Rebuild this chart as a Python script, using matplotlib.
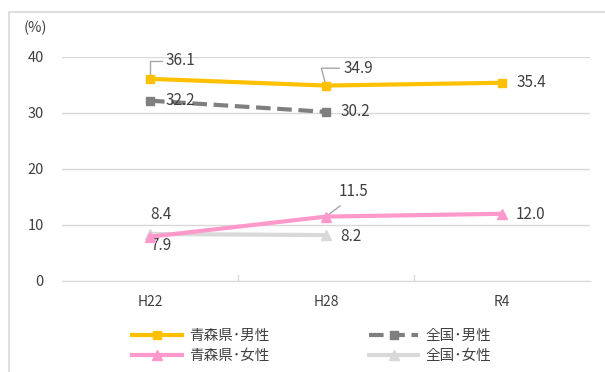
import matplotlib
matplotlib.use("Agg")
import matplotlib.pyplot as plt
from matplotlib.patches import Rectangle

plt.rcParams['font.family'] = ['Noto Sans CJK JP', 'DejaVu Sans']

categories = ["H22", "H28", "R4"]
aomori_male = [36.1, 34.9, 35.4]
national_male = [32.2, 30.2]
aomori_female = [7.9, 11.5, 12.0]
national_female = [8.4, 8.2]
yticks = [0, 10, 20, 30, 40]

fig = plt.figure(figsize=(6.05, 3.72), dpi=100)
fig.patches.append(Rectangle((9/605, -10/372), 610/605, 370/372, transform=fig.transFigure,
                             fill=False, edgecolor='#D9D9D9', linewidth=1.2))
ax = fig.add_axes([62/605, 1-281/372, 528/605, 224/372])

x = list(range(len(categories)))
lw = 3
ax.plot(x[:len(aomori_male)], aomori_male, color='#FFC000', lw=lw, marker='s', ms=6, label='青森県･男性', zorder=4)
ax.plot(x[:len(national_male)], national_male, color='#7F7F7F', lw=lw, ls=(0, (3.5, 1.6)), marker='s', ms=6, label='全国･男性', zorder=3)
ax.plot(x[:len(aomori_female)], aomori_female, color='#FF99CC', lw=lw, marker='^', ms=7, label='青森県･女性', zorder=4)
ax.plot(x[:len(national_female)], national_female, color='#D9D9D9', lw=lw, marker='^', ms=7, label='全国･女性', zorder=3)

ax.set_xlim(-0.5, 2.5)
ax.set_ylim(0, 40)
ax.set_yticks(yticks)
ax.set_xticks(x)
ax.set_xticklabels(categories)
ax.grid(axis='y', color='#D9D9D9', lw=1)
ax.set_axisbelow(True)
for s in ['top', 'right', 'left']:
    ax.spines[s].set_visible(False)
ax.spines['bottom'].set_color('#D9D9D9')
ax.tick_params(axis='y', length=0, labelsize=10.5, colors='#404040', pad=13)
ax.tick_params(axis='x', length=0, labelsize=10, colors='#404040', pad=10)
for xm in [0.5, 1.5]:
    ax.plot([xm, xm], [0, 1], color='#D9D9D9', lw=1, clip_on=False)

fig.text(24/605, 1-28/372, '(%)', fontsize=10.5, color='#404040', va='center')

tc = '#404040'
fs = 11
lc = '#A6A6A6'
ax.annotate(f'{aomori_male[0]:.1f}', xy=(x[0], aomori_male[0]), xytext=(x[0]+0.09, 39.3),
            fontsize=fs, color=tc, va='center', ha='left',
            arrowprops=dict(arrowstyle='-', color=lc, lw=1, connectionstyle='angle,angleA=0,angleB=90,rad=0', shrinkA=1, shrinkB=2))
ax.annotate(f'{aomori_male[1]:.1f}', xy=(x[1], aomori_male[1]), xytext=(x[1]+0.1, 38.0),
            fontsize=fs, color=tc, va='center', ha='left',
            arrowprops=dict(arrowstyle='-', color=lc, lw=1, connectionstyle='angle,angleA=0,angleB=105,rad=0', shrinkA=1, shrinkB=2))
ax.text(x[2]+0.08, aomori_male[2], f'{aomori_male[2]:.1f}', fontsize=fs, color=tc, va='center', ha='left')
ax.text(x[0]+0.09, national_male[0], f'{national_male[0]:.1f}', fontsize=fs, color=tc, va='center', ha='left')
ax.text(x[1]+0.08, national_male[1], f'{national_male[1]:.1f}', fontsize=fs, color=tc, va='center', ha='left')
ax.text(x[0], 6.4, f'{aomori_female[0]:.1f}', fontsize=fs, color=tc, va='center', ha='left')
ax.annotate(f'{aomori_female[1]:.1f}', xy=(x[1], aomori_female[1]), xytext=(x[1]+0.07, 15.9),
            fontsize=fs, color=tc, va='center', ha='left',
            arrowprops=dict(arrowstyle='-', color=lc, lw=1, shrinkA=3, shrinkB=2, relpos=(0.3, 0)))
ax.text(x[2]+0.08, 11.8, f'{aomori_female[2]:.1f}', fontsize=fs, color=tc, va='center', ha='left')
ax.text(x[0], 11.8, f'{national_female[0]:.1f}', fontsize=fs, color=tc, va='center', ha='left')
ax.text(x[1]+0.08, 7.9, f'{national_female[1]:.1f}', fontsize=fs, color=tc, va='center', ha='left')

h, l = ax.get_legend_handles_labels()
order = [0, 2, 1, 3]
leg = fig.legend([h[i] for i in order], [l[i] for i in order], ncol=2, loc='center',
                 bbox_to_anchor=(312/605, 1-346/372), frameon=False, fontsize=10.5,
                 handlelength=3.4, columnspacing=6.8, handletextpad=0.5, labelspacing=0.4,
                 labelcolor=tc)

fig.savefig('out.png', dpi=100)
